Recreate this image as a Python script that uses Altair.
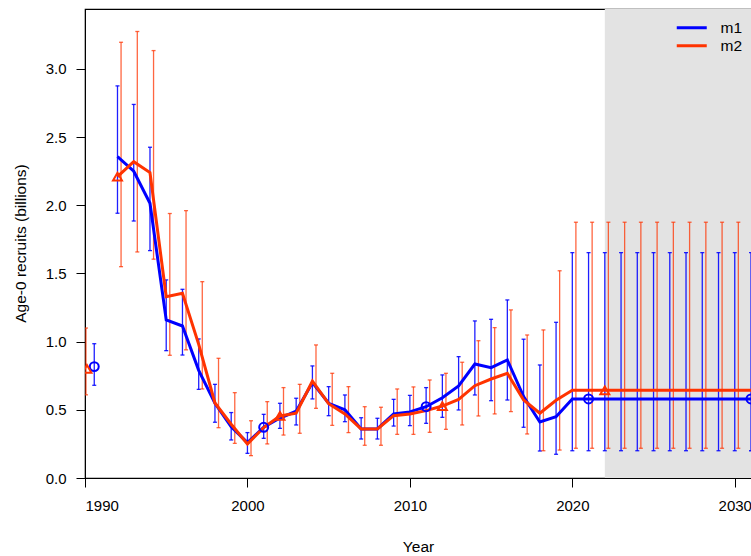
import altair as alt
import pandas as pd

FONT = "Liberation Sans"

# ---- data ----
years = [1992, 1993, 1994, 1995, 1996, 1997, 1998, 1999, 2000, 2001,
         2002, 2003, 2004, 2005, 2006, 2007, 2008, 2009, 2010, 2011,
         2012, 2013, 2014, 2015, 2016, 2017, 2018, 2019, 2020, 2021,
         2022, 2023, 2024, 2025, 2026, 2027, 2028, 2029, 2030, 2031]

m1_est = [2.357, 2.25, 2.015, 1.16, 1.115, 0.79, 0.548, 0.376, 0.259, 0.372,
          0.44, 0.49, 0.70, 0.548, 0.50, 0.36, 0.36, 0.47, 0.485, 0.523,
          0.589, 0.675, 0.836, 0.809, 0.866, 0.597, 0.411, 0.45, 0.58, 0.58,
          0.58, 0.58, 0.58, 0.58, 0.58, 0.58, 0.58, 0.58, 0.58, 0.58]
m1_lo = [1.942, 1.885, 1.668, 0.934, 0.902, 0.65, 0.409, 0.279, 0.181, 0.291,
         0.364, 0.389, 0.58, 0.457, 0.413, 0.286, 0.286, 0.381, 0.384, 0.401,
         0.445, 0.499, 0.609, 0.567, 0.572, 0.372, 0.198, 0.174, 0.20, 0.20,
         0.20, 0.20, 0.20, 0.20, 0.20, 0.20, 0.20, 0.20, 0.20, 0.20]
m1_hi = [2.876, 2.74, 2.426, 1.453, 1.384, 1.02, 0.687, 0.48, 0.333, 0.467,
         0.548, 0.585, 0.822, 0.67, 0.609, 0.442, 0.438, 0.577, 0.606, 0.663,
         0.756, 0.89, 1.152, 1.164, 1.306, 1.018, 0.829, 1.142, 1.653, 1.653,
         1.653, 1.653, 1.653, 1.653, 1.653, 1.653, 1.653, 1.653, 1.653, 1.653]

m2_est = [2.21, 2.32, 2.24, 1.33, 1.355, 0.98, 0.55, 0.394, 0.25, 0.37,
          0.455, 0.475, 0.71, 0.545, 0.47, 0.36, 0.36, 0.457, 0.47, 0.494,
          0.528, 0.577, 0.677, 0.726, 0.768, 0.572, 0.475, 0.57, 0.643, 0.643,
          0.643, 0.643, 0.643, 0.643, 0.643, 0.643, 0.643, 0.643, 0.643, 0.643]
m2_lo = [1.55, 1.658, 1.605, 0.90, 0.94, 0.653, 0.369, 0.254, 0.164, 0.25,
         0.315, 0.328, 0.511, 0.386, 0.333, 0.24, 0.24, 0.32, 0.32, 0.335,
         0.357, 0.389, 0.455, 0.47, 0.487, 0.323, 0.20, 0.205, 0.218, 0.218,
         0.218, 0.218, 0.218, 0.218, 0.218, 0.218, 0.218, 0.218, 0.218, 0.218]
m2_hi = [3.196, 3.275, 3.135, 1.94, 1.961, 1.44, 0.878, 0.626, 0.42, 0.56,
         0.663, 0.687, 0.976, 0.768, 0.67, 0.523, 0.519, 0.653, 0.668, 0.719,
         0.768, 0.849, 1.007, 1.103, 1.233, 1.049, 1.086, 1.52, 1.876, 1.876,
         1.876, 1.876, 1.876, 1.876, 1.876, 1.876, 1.876, 1.876, 1.876, 1.876]

# virgin (equilibrium) recruitment points
vir_model = ["m1", "m2"]
vir_year = [1990.57, 1990.12]
vir_bar_year = [1990.57, 1990.06]
vir_est = [0.817, 0.80]
vir_lo = [0.68, 0.61]
vir_hi = [0.985, 1.10]

# marker years
m1_marker_years = [2001, 2011, 2021, 2031]
m2_marker_years = [1992, 2002, 2012, 2022]

models = ["m1", "m2"]
colors = ["#0000FF", "#FF3300"]
bar_opacity = [0.88, 0.75]
shapes = ["circle", "triangle-up"]

forecast_start = [2022]
forecast_end = [2031]

X_MIN, X_MAX = 1990, 2031
Y_MIN, Y_MAX = 0, 3.44
BAR_SHIFT = {"m1": 0.0, "m2": 0.22}

# ---- tables ----
rows = []
for m, est, lo, hi in [("m1", m1_est, m1_lo, m1_hi), ("m2", m2_est, m2_lo, m2_hi)]:
    for y, e, l, h in zip(years, est, lo, hi):
        rows.append({"model": m, "year": y, "xbar": y + BAR_SHIFT[m], "est": e, "lo": l, "hi": h})
ts = pd.DataFrame(rows)

vir = pd.DataFrame({"model": vir_model, "year": vir_year, "xbar": vir_bar_year,
                    "est": vir_est, "lo": vir_lo, "hi": vir_hi})

bars = pd.concat([ts[["model", "xbar", "lo", "hi"]], vir[["model", "xbar", "lo", "hi"]]],
                 ignore_index=True)

mk = []
for m, yrs, est in [("m1", m1_marker_years, m1_est), ("m2", m2_marker_years, m2_est)]:
    for y in yrs:
        mk.append({"model": m, "year": y, "est": est[years.index(y)]})
markers = pd.concat([pd.DataFrame(mk), vir[["model", "year", "est"]]], ignore_index=True)

shade = pd.DataFrame({"start": forecast_start, "end": forecast_end,
                      "lo": [Y_MIN], "hi": [Y_MAX]})

# ---- scales / axes ----
xs = alt.Scale(domain=[X_MIN, X_MAX], nice=False, zero=False)
ys = alt.Scale(domain=[Y_MIN, Y_MAX], nice=False, zero=False)
cs = alt.Scale(domain=models, range=colors)

x_axis = alt.Axis(values=[1990, 2000, 2010, 2020, 2030], format="d", title="Year",
                  grid=False, tickSize=9, tickColor="black", domainColor="black",
                  labelFontSize=15, labelFont=FONT, labelColor="black", labelPadding=11,
                  titleFontSize=15.5, titleFont=FONT, titleFontWeight="normal",
                  titleColor="black", titleY=61)
y_axis = alt.Axis(values=[0, 0.5, 1.0, 1.5, 2.0, 2.5, 3.0], format=".1f",
                  title="Age-0 recruits (billions)", grid=False, tickSize=9,
                  tickColor="black", domainColor="black", labelFontSize=15,
                  labelFont=FONT, labelColor="black", labelPadding=10,
                  titleFontSize=15.5, titleFont=FONT, titleFontWeight="normal",
                  titleColor="black", titleX=-65, titleY=234, titleBaseline="middle",
                  titleAlign="center", titleAngle=-90)

legend = alt.Legend(title=None, orient="none", legendX=599, legendY=11, padding=0,
                    symbolType="M-3,0L3,0", symbolSize=100, symbolStrokeWidth=3,
                    labelFontSize=15.5, labelFont=FONT, labelColor="black",
                    labelOffset=21, rowPadding=1)

shade_layer = alt.Chart(shade).mark_rect(color="#E3E3E3").encode(
    x=alt.X("start:Q", scale=xs, axis=x_axis),
    x2="end:Q",
    y=alt.Y("lo:Q", scale=ys, axis=y_axis),
    y2="hi:Q",
)

layers = [shade_layer]

# error bars and caps, one layer per model with a fixed colour
for m, col, op in zip(models, colors, bar_opacity):
    b = alt.Chart(bars).transform_filter(alt.datum.model == m)
    layers.append(b.mark_rule(color=col, strokeWidth=1.3, opacity=op, clip=True).encode(
        x=alt.X("xbar:Q", scale=xs),
        y=alt.Y("lo:Q", scale=ys),
        y2="hi:Q",
    ))
    layers.append(b.transform_fold(["lo", "hi"], as_=["end", "val"]).mark_tick(
        color=col, orient="horizontal", size=4, thickness=1.3, opacity=op, clip=True
    ).encode(
        x=alt.X("xbar:Q", scale=xs),
        y=alt.Y("val:Q", scale=ys),
    ))

line_layer = alt.Chart(ts).mark_line(strokeWidth=3, clip=True).encode(
    x=alt.X("year:Q", scale=xs),
    y=alt.Y("est:Q", scale=ys),
    color=alt.Color("model:N", scale=cs, legend=legend),
    order="year:Q",
)
layers.append(line_layer)

for m, col, shp in zip(models, colors, shapes):
    layers.append(alt.Chart(markers).transform_filter(alt.datum.model == m).mark_point(
        shape=shp, color=col, filled=False, strokeWidth=2, size=80, opacity=1, clip=True
    ).encode(
        x=alt.X("year:Q", scale=xs),
        y=alt.Y("est:Q", scale=ys),
    ))

chart = alt.layer(*layers).properties(
    width=666, height=469,
    padding={"left": 85, "top": 9, "right": 0, "bottom": 78},
    autosize=alt.AutoSizeParams(type="none"),
    background="white",
).configure_view(stroke="black", strokeWidth=1.2)

chart.save("out.html", embed_options={"renderer": "svg", "actions": False})
